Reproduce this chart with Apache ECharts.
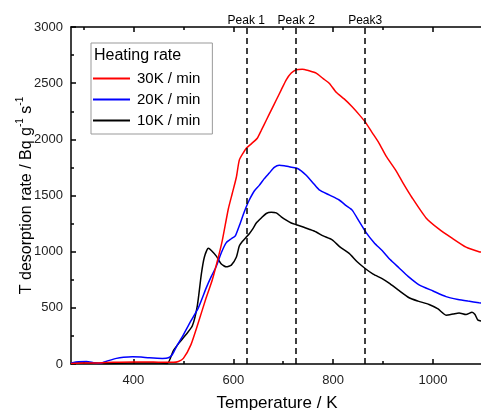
<!DOCTYPE html>
<html>
<head>
<meta charset="utf-8">
<script src="https://cdn.jsdelivr.net/npm/echarts@6/dist/echarts.min.js"></script>
<style>html,body{margin:0;padding:0;background:#fff}#c{width:481px;height:410px}</style>
</head>
<body>
<div id="c"></div>
<script>
// ---- data ----
const seriesNames = ['30K / min', '20K / min', '10K / min'];
const seriesColors = ['#ff0000', '#0000ff', '#000000'];

const tempRed = [275, 300, 330, 360, 400, 440, 460, 480, 490, 500, 515, 530, 545, 558, 570, 578, 590, 598, 606, 612, 620, 626, 636, 648, 656, 666, 676, 686, 696, 706, 716, 726, 738, 752, 766, 780, 792, 806, 822, 838, 852, 864, 878, 892, 906, 926, 940, 958, 986, 1012, 1038, 1066, 1092, 1100];
const rateRed = [5, 8, 10, 15, 18, 18, 15, 15, 22, 50, 170, 370, 580, 750, 950, 1100, 1380, 1520, 1660, 1815, 1880, 1920, 1960, 2010, 2080, 2170, 2260, 2350, 2440, 2530, 2590, 2620, 2625, 2610, 2590, 2540, 2500, 2420, 2360, 2290, 2220, 2155, 2060, 1965, 1850, 1720, 1610, 1480, 1300, 1200, 1120, 1040, 1000, 995];

const tempBlue = [275, 290, 306, 320, 332, 350, 366, 380, 398, 415, 432, 458, 470, 478, 488, 500, 516, 530, 546, 556, 566, 576, 586, 596, 604, 612, 620, 626, 632, 642, 652, 662, 672, 682, 692, 702, 712, 726, 736, 746, 760, 772, 792, 812, 826, 838, 852, 866, 882, 898, 914, 932, 950, 972, 1000, 1026, 1050, 1070, 1092, 1100];
const rateBlue = [10, 20, 22, 12, 5, 30, 50, 60, 65, 62, 55, 50, 55, 85, 170, 260, 390, 500, 680, 780, 870, 990, 1080, 1115, 1140, 1230, 1330, 1400, 1460, 1540, 1590, 1650, 1700, 1750, 1770, 1765, 1755, 1745, 1720, 1680, 1610, 1550, 1505, 1460, 1410, 1370, 1270, 1170, 1080, 1010, 930, 855, 780, 705, 650, 600, 575, 560, 545, 540];

const tempBlack = [275, 300, 350, 400, 450, 468, 480, 492, 505, 518, 528, 536, 542, 550, 556, 566, 576, 586, 596, 606, 612, 618, 626, 632, 640, 646, 656, 666, 676, 686, 696, 706, 716, 726, 740, 752, 766, 780, 798, 814, 832, 848, 864, 880, 898, 912, 930, 952, 970, 992, 1010, 1026, 1040, 1052, 1066, 1078, 1084, 1090, 1100];
const rateBlack = [8, 10, 5, 8, 8, 5, 120, 190, 260, 340, 520, 800, 950, 1030, 1010, 960, 890, 865, 880, 950, 1050, 1090, 1130, 1160, 1210, 1255, 1300, 1340, 1350, 1345, 1310, 1280, 1255, 1240, 1220, 1200, 1175, 1140, 1105, 1040, 985, 910, 850, 800, 760, 720, 660, 590, 560, 530, 490, 435, 445, 455, 440, 460, 440, 390, 380];

const peakTemps = [626, 726, 864];
const peakNames = ['Peak 1', 'Peak 2', 'Peak3'];

const xMajorTicks = [400, 600, 800, 1000];
const xMinorTicks = [300, 500, 700, 900, 1100];
const xMin = 275, xMax = 1100;
const yMin = 0, yMax = 3000;
// ---------------------------------------

function pairs(xs, ys) { return xs.map((x, i) => [x, ys[i]]); }

const FONT = 'Liberation Sans, Arial, sans-serif';

function xAxisDef(pos, ticks, len, showLine, showLabel) {
  return {
    type: 'value', position: pos, min: xMin, max: xMax,
    axisLine: { show: showLine, onZero: false, lineStyle: { color: '#000', width: 1.5 } },
    axisTick: { show: true, inside: true, length: len, customValues: ticks,
                lineStyle: { color: '#000', width: 1.5 } },
    axisLabel: { show: showLabel, customValues: ticks, color: '#222', fontSize: 13, fontFamily: FONT,
                 margin: 10, formatter: v => String(v) },
    splitLine: { show: false }
  };
}

const chart = echarts.init(document.getElementById('c'), null, { renderer: 'canvas' });

const seriesData = [pairs(tempRed, rateRed), pairs(tempBlue, rateBlue), pairs(tempBlack, rateBlack)];

const series = seriesData.map((d, i) => ({
  name: seriesNames[i], type: 'line', data: d, symbol: 'none', smooth: 0.2,
  xAxisIndex: 0, yAxisIndex: 0,
  lineStyle: { color: seriesColors[i], width: 1.5 }, itemStyle: { color: seriesColors[i] },
  z: 3 - i
}));

series.push({
  name: 'peaks', type: 'line', data: [], xAxisIndex: 0, yAxisIndex: 0,
  markLine: {
    silent: true, symbol: ['none', 'none'], animation: false,
    lineStyle: { color: '#000', width: 1.5, type: [6, 4] },
    label: { show: true, position: 'end', formatter: '{b}', color: '#000', fontSize: 12, fontFamily: FONT, distance: 0 },
    data: peakTemps.map((t, i) => ({ xAxis: t, name: peakNames[i] }))
  }
});

chart.setOption({
  animation: false,
  backgroundColor: '#fff',
  grid: { left: 71, right: -2, top: 27, bottom: 46, containLabel: false, outerBoundsMode: 'none' },
  xAxis: [
    Object.assign(xAxisDef('bottom', xMajorTicks, 5, true, true), {
      name: 'Temperature / K', nameLocation: 'middle', nameGap: 31, nameMoveOverlap: false,
      nameTextStyle: { fontSize: 17, color: '#000', fontFamily: FONT }
    }),
    xAxisDef('bottom', xMinorTicks, 3, false, false),
    xAxisDef('top', xMajorTicks, 5, true, false),
    xAxisDef('top', xMinorTicks, 3, false, false)
  ],
  yAxis: [{
    type: 'value', min: yMin, max: yMax, interval: 500,
    axisLine: { show: true, lineStyle: { color: '#000', width: 1.5 } },
    axisTick: { show: true, inside: true, length: 5, lineStyle: { color: '#000', width: 1.5 } },
    minorTick: { show: true, splitNumber: 2, length: 3, lineStyle: { color: '#000', width: 1.5 } },
    axisLabel: { color: '#222', fontSize: 13, fontFamily: FONT, margin: 8, formatter: v => String(v) },
    splitLine: { show: false },
    name: '{a|T desorption rate / Bq g}{s|-1}{a| s}{s|-1}',
    nameLocation: 'middle', nameGap: 36, nameRotate: 90, nameMoveOverlap: false,
    nameTextStyle: {
      fontFamily: FONT,
      rich: {
        a: { fontSize: 16, color: '#000', fontFamily: FONT, lineHeight: 20, verticalAlign: 'bottom' },
        s: { fontSize: 10, color: '#000', fontFamily: FONT, lineHeight: 20, verticalAlign: 'top' }
      }
    }
  }],
  legend: {
    data: seriesNames.map(n => ({ name: n, icon: 'rect' })), orient: 'vertical', left: 91, top: 43,
    itemWidth: 37, itemHeight: 2, itemGap: 6,
    padding: [28, 12, 6, 2],
    borderColor: '#999', borderWidth: 1, backgroundColor: '#fff',
    textStyle: { fontSize: 15, color: '#000', fontFamily: FONT, padding: [0, 0, 0, 2] }
  },
  graphic: [{
    type: 'text', left: 94, top: 48, z: 100,
    style: { text: 'Heating rate', fontSize: 16, fill: '#000', fontFamily: FONT }
  }],
  series: series
});
</script>
</body>
</html>
